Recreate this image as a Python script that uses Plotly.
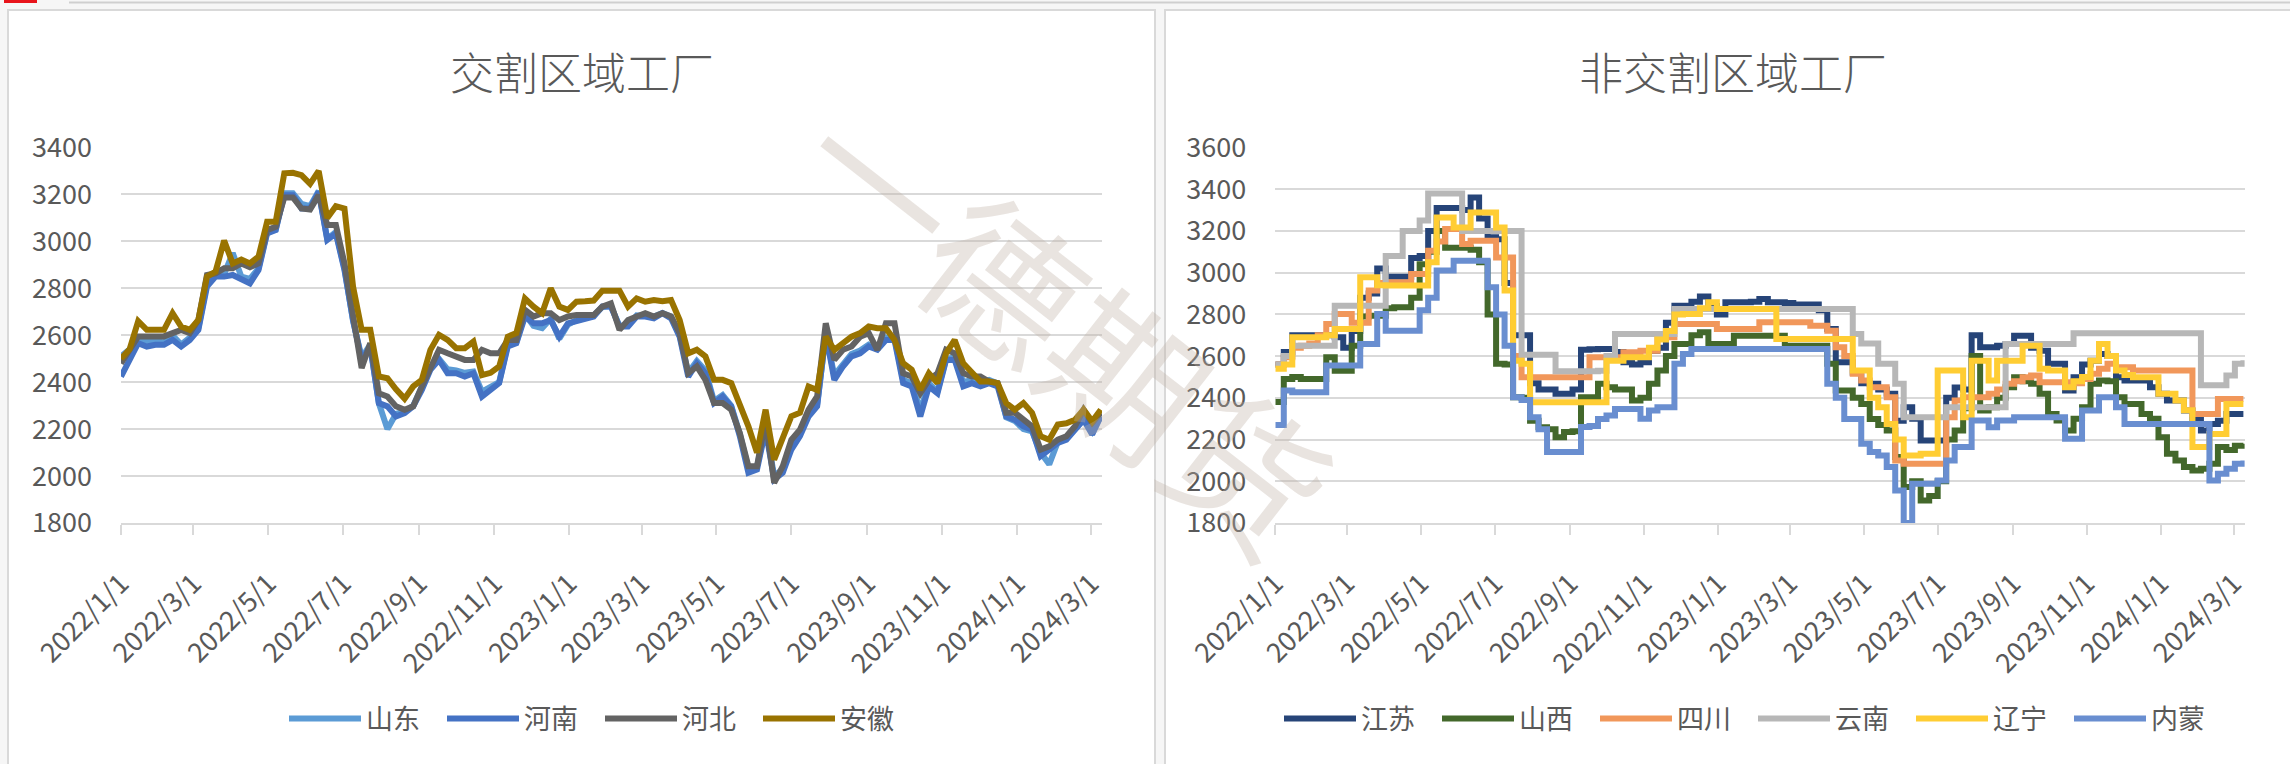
import plotly.graph_objects as go
import pandas as pd

W, H = 2290, 764

# ---------------- data (weekly samples) ----------------
dates = pd.date_range("2022-01-01", periods=115, freq="7D")

left_names = ["山东", "河南", "河北", "安徽"]
left_colors = ["#5B9BD5", "#4472C4", "#636363", "#997300"]

shandong = [2510, 2540, 2580, 2575, 2570, 2570, 2600, 2560, 2590, 2630,
            2820, 2860, 2860, 2950, 2850, 2840, 2885, 3040, 3050, 3205,
            3205, 3160, 3150, 3215, 3010, 3040, 2885, 2660, 2505, 2560,
            2310, 2200, 2265, 2275, 2300, 2375, 2460, 2500, 2455, 2450,
            2440, 2445, 2360, 2380, 2400, 2560, 2570, 2690, 2640, 2630,
            2670, 2585, 2645, 2665, 2675, 2685, 2720, 2725, 2640, 2645,
            2685, 2685, 2680, 2695, 2680, 2600, 2440, 2490, 2450, 2320,
            2345, 2300, 2180, 2030, 2040, 2210, 2000, 2030, 2125, 2180,
            2265, 2305, 2600, 2430, 2480, 2520, 2535, 2560, 2545, 2590,
            2590, 2410, 2395, 2280, 2395, 2360, 2500, 2505, 2400, 2410,
            2400, 2410, 2395, 2250, 2235, 2200, 2190, 2100, 2050, 2145,
            2160, 2200, 2240, 2190, 2255]
henan = [2424, 2495, 2566, 2552, 2559, 2559, 2580, 2552, 2580, 2623,
         2807, 2850, 2850, 2857, 2836, 2821, 2878, 3034, 3048, 3197,
         3197, 3140, 3140, 3211, 3006, 3034, 2878, 2665, 2495, 2552,
         2311, 2297, 2254, 2268, 2297, 2367, 2453, 2495, 2438, 2438,
         2424, 2438, 2339, 2367, 2396, 2552, 2566, 2680, 2651, 2651,
         2665, 2594, 2651, 2660, 2672, 2680, 2722, 2722, 2637, 2637,
         2680, 2680, 2672, 2694, 2672, 2594, 2424, 2481, 2438, 2311,
         2339, 2297, 2170, 2014, 2028, 2198, 1985, 2014, 2113, 2170,
         2254, 2297, 2609, 2410, 2467, 2510, 2523, 2552, 2538, 2580,
         2580, 2396, 2382, 2254, 2382, 2353, 2495, 2495, 2382, 2396,
         2382, 2396, 2382, 2254, 2240, 2212, 2198, 2085, 2113, 2141,
         2155, 2198, 2240, 2177, 2254]
hebei = [2480, 2540, 2595, 2595, 2595, 2595, 2609, 2623, 2609, 2665,
         2857, 2864, 2885, 2885, 2906, 2890, 2906, 3048, 3062, 3187,
         3187, 3140, 3136, 3197, 3070, 3070, 2906, 2694, 2460, 2566,
         2353, 2339, 2297, 2282, 2297, 2382, 2467, 2538, 2523, 2510,
         2495, 2495, 2538, 2523, 2523, 2580, 2580, 2708, 2680, 2694,
         2694, 2665, 2680, 2686, 2686, 2686, 2722, 2736, 2623, 2665,
         2680, 2694, 2680, 2694, 2680, 2609, 2438, 2467, 2410, 2311,
         2311, 2283, 2184, 2042, 2042, 2240, 1971, 2042, 2155, 2198,
         2283, 2339, 2651, 2495, 2538, 2552, 2594, 2609, 2538, 2651,
         2651, 2438, 2424, 2353, 2410, 2438, 2538, 2523, 2438, 2424,
         2424, 2403, 2396, 2270, 2270, 2240, 2212, 2113, 2127, 2155,
         2170, 2212, 2283, 2226, 2270]
anhui = [2500, 2540, 2660, 2623, 2623, 2623, 2694, 2637, 2623, 2665,
         2850, 2871, 3003, 2906, 2923, 2906, 2935, 3084, 3084, 3290,
         3292, 3282, 3245, 3300, 3100, 3150, 3140, 2807, 2623, 2623,
         2424, 2417, 2370, 2330, 2382, 2410, 2538, 2602, 2580, 2545,
         2545, 2573, 2430, 2440, 2467, 2594, 2609, 2757, 2722, 2694,
         2800, 2722, 2708, 2743, 2745, 2748, 2790, 2790, 2790, 2722,
         2757, 2743, 2750, 2745, 2750, 2665, 2523, 2538, 2510, 2410,
         2410, 2396, 2311, 2212, 2100, 2283, 2070, 2155, 2255, 2270,
         2382, 2367, 2594, 2538, 2566, 2594, 2609, 2637, 2630, 2630,
         2580, 2481, 2453, 2367, 2438, 2396, 2523, 2580, 2481, 2438,
         2403, 2403, 2396, 2311, 2283, 2311, 2270, 2170, 2155, 2220,
         2225, 2240, 2283, 2233, 2283]

right_names = ["江苏", "山西", "四川", "云南", "辽宁", "内蒙"]
right_colors = ["#264478", "#43682B", "#F1975A", "#B7B7B7", "#FFCD33", "#698ED0"]

jiangsu = [2560, 2620, 2700, 2700, 2700, 2700, 2700, 2690, 2640, 2720,
           2880, 2900, 3020, 2980, 2980, 2980, 3070, 3080, 3200, 3310,
           3310, 3310, 3300, 3360, 3260, 3170, 3160, 2950, 2700, 2700,
           2470, 2440, 2440, 2420, 2420, 2440, 2630, 2633, 2634, 2634,
           2620, 2570, 2560, 2570, 2626, 2640, 2760, 2842, 2842, 2860,
           2886, 2840, 2800, 2858, 2858, 2858, 2860, 2874, 2858, 2858,
           2855, 2847, 2847, 2847, 2820, 2730, 2570, 2570, 2520, 2470,
           2467, 2440, 2420, 2290, 2355, 2300, 2196, 2196, 2196, 2400,
           2450, 2440, 2700, 2642, 2642, 2650, 2658, 2698, 2698, 2640,
           2626, 2563, 2563, 2435, 2499, 2560, 2578, 2610, 2600, 2499,
           2483, 2483, 2483, 2451, 2420, 2387, 2387, 2339, 2300, 2243,
           2275, 2290, 2323, 2323, 2323]
shanxi = [2380, 2490, 2500, 2490, 2490, 2490, 2595, 2530, 2530, 2650,
          2790, 2794, 2794, 2830, 2834, 2834, 2880, 3040, 3100, 3200,
          3120, 3120, 3120, 3110, 3050, 2800, 2563, 2560, 2403, 2400,
          2290, 2259, 2250, 2211, 2236, 2240, 2403, 2403, 2467, 2451,
          2440, 2440, 2387, 2400, 2467, 2531, 2600, 2658, 2658, 2700,
          2714, 2658, 2658, 2658, 2698, 2698, 2698, 2698, 2698, 2698,
          2650, 2650, 2650, 2650, 2650, 2563, 2435, 2435, 2400, 2371,
          2299, 2270, 2243, 2116, 1972, 2000, 1908, 1930, 2000, 2200,
          2243, 2350, 2600, 2339, 2355, 2400, 2451, 2499, 2480, 2467,
          2419, 2323, 2291, 2243, 2300, 2355, 2467, 2483, 2480, 2403,
          2371, 2371, 2323, 2300, 2211, 2132, 2100, 2068, 2052, 2060,
          2084, 2164, 2150, 2170, 2180]
sichuan = [2560, 2594, 2640, 2650, 2660, 2700, 2754, 2802, 2802, 2760,
           2760, 2914, 2950, 2954, 2954, 2954, 2994, 2994, 3105, 3150,
           3209, 3209, 3137, 3153, 3153, 3153, 3073, 3073, 2600, 2499,
           2499, 2499, 2499, 2499, 2499, 2499, 2499, 2595, 2595, 2594,
           2594, 2618, 2618, 2626, 2626, 2690, 2690, 2754, 2754, 2754,
           2754, 2754, 2730, 2730, 2730, 2730, 2730, 2762, 2762, 2762,
           2762, 2762, 2762, 2746, 2746, 2722, 2642, 2600, 2515, 2483,
           2451, 2451, 2403, 2100, 2084, 2084, 2084, 2084, 2084, 2307,
           2387, 2403, 2403, 2403, 2419, 2440, 2467, 2480, 2499, 2507,
           2475, 2475, 2475, 2475, 2470, 2490, 2515, 2540, 2563, 2547,
           2547, 2531, 2531, 2531, 2531, 2531, 2531, 2531, 2323, 2323,
           2323, 2395, 2395, 2395, 2395]
yunnan = [2560, 2600, 2650, 2650, 2650, 2650, 2650, 2842, 2842, 2842,
          2842, 2842, 2842, 3080, 3080, 3200, 3200, 3250, 3380, 3380,
          3380, 3380, 3200, 3200, 3200, 3200, 3200, 3200, 3200, 2607,
          2607, 2607, 2607, 2527, 2527, 2527, 2527, 2527, 2530, 2600,
          2706, 2706, 2706, 2706, 2706, 2706, 2706, 2826, 2826, 2826,
          2826, 2826, 2826, 2826, 2826, 2826, 2826, 2826, 2826, 2826,
          2826, 2826, 2826, 2826, 2826, 2826, 2826, 2826, 2706, 2660,
          2660, 2563, 2563, 2467, 2307, 2307, 2307, 2307, 2307, 2355,
          2355, 2355, 2355, 2355, 2355, 2355, 2658, 2658, 2658, 2658,
          2658, 2658, 2658, 2658, 2710, 2710, 2710, 2710, 2710, 2710,
          2710, 2710, 2710, 2710, 2710, 2710, 2710, 2710, 2710, 2460,
          2460, 2460, 2507, 2563, 2580]
liaoning = [2540, 2560, 2690, 2690, 2690, 2690, 2700, 2730, 2730, 2730,
            2978, 2978, 2940, 2938, 2938, 2938, 2938, 2938, 3050, 3265,
            3265, 3217, 3217, 3289, 3289, 3289, 3217, 2914, 2578, 2563,
            2379, 2379, 2379, 2379, 2379, 2379, 2379, 2379, 2379, 2578,
            2578, 2594, 2594, 2594, 2640, 2680, 2720, 2800, 2802, 2802,
            2830, 2858, 2826, 2826, 2826, 2826, 2826, 2826, 2826, 2682,
            2682, 2682, 2682, 2682, 2682, 2682, 2682, 2682, 2531, 2531,
            2400, 2355, 2275, 2200, 2124, 2124, 2132, 2132, 2531, 2531,
            2531, 2307, 2578, 2578, 2483, 2578, 2578, 2578, 2650, 2650,
            2539, 2531, 2531, 2451, 2480, 2500, 2578, 2658, 2600, 2531,
            2510, 2499, 2499, 2499, 2419, 2419, 2387, 2340, 2164, 2164,
            2227, 2227, 2371, 2371, 2371]
neimeng = [2270, 2435, 2427, 2427, 2427, 2427, 2555, 2555, 2555, 2555,
           2658, 2658, 2802, 2722, 2722, 2722, 2722, 2820, 2880, 3010,
           3010, 3057, 3057, 3057, 3057, 2930, 2800, 2650, 2403, 2390,
           2307, 2250, 2140, 2140, 2140, 2140, 2260, 2265, 2299, 2315,
           2347, 2347, 2347, 2300, 2339, 2355, 2355, 2563, 2610, 2634,
           2634, 2634, 2634, 2634, 2634, 2634, 2634, 2634, 2634, 2634,
           2634, 2634, 2634, 2634, 2634, 2467, 2400, 2299, 2299, 2180,
           2140, 2124, 2068, 1956, 1800, 1988, 1988, 1988, 2004, 2100,
           2164, 2164, 2291, 2291, 2259, 2291, 2291, 2307, 2307, 2307,
           2307, 2307, 2307, 2204, 2204, 2339, 2339, 2403, 2403, 2355,
           2275, 2275, 2275, 2275, 2275, 2275, 2275, 2275, 2275, 2275,
           2004, 2036, 2060, 2084, 2100]

left_series = [shandong, henan, hebei, anhui]
right_series = [jiangsu, shanxi, sichuan, yunnan, liaoning, neimeng]

left_title = "交割区域工厂"
right_title = "非交割区域工厂"
watermark = "一德期货"

# ---------------- figure ----------------
FONT = "Noto Sans CJK SC"
TXT = "#595959"
GRID = "#D9D9D9"
LW = 6

fig = go.Figure()
for name, col, vals in zip(left_names, left_colors, left_series):
    fig.add_trace(go.Scatter(x=dates, y=vals, name=name, mode="lines",
                             line=dict(color=col, width=LW),
                             xaxis="x", yaxis="y", legend="legend"))
for name, col, vals in zip(right_names, right_colors, right_series):
    fig.add_trace(go.Scatter(x=dates, y=vals, name=name, mode="lines",
                             line=dict(color=col, width=LW, shape="hv"),
                             xaxis="x2", yaxis="y2", legend="legend2"))

def px_x(p):
    return p / W

def px_y(p):
    return (H - p) / H

ydom = [px_y(523), px_y(147.5)]
xcommon = dict(type="date", range=["2022-01-01", "2024-03-10"], dtick="M2",
               tick0="2022-01-01", tickformat="%Y/%-m/%-d", tickangle=-45,
               showgrid=False, showline=True, linecolor=GRID, linewidth=2,
               ticks="outside", ticklen=10, tickwidth=2, tickcolor=GRID,
               ticklabelstandoff=22,
               tickfont=dict(family=FONT, size=27, color=TXT),
               zeroline=False, fixedrange=True, automargin=False)
ycommon = dict(dtick=200, showgrid=True, gridcolor=GRID, gridwidth=2,
               showline=False, zeroline=False, ticks="",
               ticklabelstandoff=28, automargin=False,
               tickfont=dict(family=FONT, size=27, color=TXT),
               domain=ydom, fixedrange=True)

legcommon = dict(orientation="h", yanchor="middle", y=px_y(719),
                 xanchor="left", bgcolor="rgba(0,0,0,0)",
                 font=dict(family=FONT, size=27, color=TXT),
                 itemwidth=72, entrywidth=71, entrywidthmode="pixels",
                 traceorder="normal", tracegroupgap=0)

fig.update_layout(
    width=W, height=H,
    margin=dict(l=0, r=0, t=0, b=0, pad=0, autoexpand=False),
    paper_bgcolor="#F6F6F6", plot_bgcolor="rgba(0,0,0,0)",
    showlegend=True,
    xaxis=dict(domain=[px_x(121), px_x(1102)], anchor="y", **xcommon),
    yaxis=dict(range=[1800, 3400], anchor="x", **ycommon),
    xaxis2=dict(domain=[px_x(1275.3), px_x(2244.6)], anchor="y2", **xcommon),
    yaxis2=dict(range=[1800, 3600], anchor="x2", **ycommon),
    legend=dict(x=px_x(284), **legcommon),
    legend2=dict(x=px_x(1279), **legcommon),
    shapes=[
        dict(type="rect", xref="paper", yref="paper", layer="below",
             x0=px_x(8), x1=px_x(1155), y0=px_y(775), y1=px_y(10),
             fillcolor="white", line=dict(color=GRID, width=2)),
        dict(type="rect", xref="paper", yref="paper", layer="below",
             x0=px_x(1165), x1=px_x(2300), y0=px_y(775), y1=px_y(10),
             fillcolor="white", line=dict(color=GRID, width=2)),
        dict(type="rect", xref="paper", yref="paper", layer="below",
             x0=px_x(4), x1=px_x(37), y0=px_y(3), y1=px_y(0),
             fillcolor="#E8141B", line=dict(width=0)),
        dict(type="line", xref="paper", yref="paper", layer="below",
             x0=px_x(69), x1=1, y0=px_y(2.5), y1=px_y(2.5),
             line=dict(color="#CFCFCF", width=2)),
    ],
    annotations=[
        dict(text=left_title, xref="paper", yref="paper", x=px_x(582), y=px_y(71),
             xanchor="center", yanchor="middle", showarrow=False,
             font=dict(family=FONT, size=44, color=TXT, weight=300)),
        dict(text=right_title, xref="paper", yref="paper", x=px_x(1733), y=px_y(71),
             xanchor="center", yanchor="middle", showarrow=False,
             font=dict(family=FONT, size=44, color=TXT, weight=300)),
        dict(text=watermark, xref="paper", yref="paper", x=px_x(1068), y=px_y(322),
             xanchor="center", yanchor="middle", showarrow=False, textangle=38,
             font=dict(family=FONT, size=155, color="rgba(190,175,165,0.34)")),
    ],
)

fig.write_html("out.html",
               config={"displayModeBar": False, "staticPlot": False},
               post_script="document.body.style.margin='0px';"
                           "document.body.style.background='#F6F6F6';")
